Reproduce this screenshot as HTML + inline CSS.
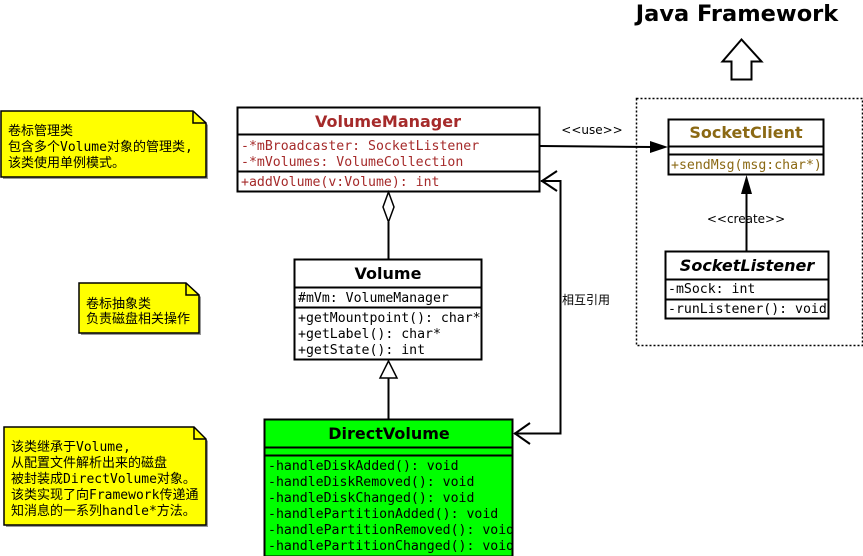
<!DOCTYPE html>
<html><head><meta charset="utf-8"><style>
html,body{margin:0;padding:0;background:#fff;}
svg{display:block;}
.m{font-family:"DejaVu Sans Mono","Liberation Mono","Noto Sans CJK SC",monospace;font-size:13.2px;}
.t{font-family:"DejaVu Sans","Liberation Sans",sans-serif;font-weight:bold;font-size:16px;}
.c{font-family:"DejaVu Sans Mono","Liberation Mono","Noto Sans CJK SC",monospace;font-size:13px;}
.s{font-family:"DejaVu Sans","Liberation Sans",sans-serif;font-size:12px;}
</style></head><body>
<svg width="863" height="556" viewBox="0 0 863 556" xmlns="http://www.w3.org/2000/svg">
<text x="737" y="21" text-anchor="middle" font-family="DejaVu Sans, Liberation Sans, sans-serif" font-weight="bold" font-size="22.5">Java Framework</text>
<polygon points="741.5,39.5 722.5,61.5 731.5,61.5 731.5,79.5 751.5,79.5 751.5,61.5 761.5,61.5" fill="#fff" stroke="#000" stroke-width="2"/>
<rect x="636.5" y="98.5" width="226" height="247" fill="none" stroke="#000" stroke-width="1.5" stroke-dasharray="2,2"/>

<g stroke="#000" stroke-width="1.5">
<polygon points="3,113 195,113 208,125 208,179 3,179" fill="#999" stroke="none"/>
<polygon points="1,111 193,111 206,123 206,177 1,177" fill="#ffff00"/>
<polyline points="193,111 193,123 206,123" fill="none"/>
<polygon points="81,285 188,285 201,297 201,335 81,335" fill="#999" stroke="none"/>
<polygon points="79,283 186,283 199,295 199,333 79,333" fill="#ffff00"/>
<polyline points="186,283 186,295 199,295" fill="none"/>
<polygon points="6,429 196,429 208,441 208,527 6,527" fill="#999" stroke="none"/>
<polygon points="4,427 194,427 206,439 206,525 4,525" fill="#ffff00"/>
<polyline points="194,427 194,439 206,439" fill="none"/>
</g>
<g class="c" fill="#000">
<text x="8" y="135">卷标管理类</text>
<text x="8" y="151">包含多个Volume对象的管理类,</text>
<text x="8" y="167">该类使用单例模式。</text>
<text x="86" y="308">卷标抽象类</text>
<text x="86" y="323">负责磁盘相关操作</text>
<text x="11" y="451">该类继承于Volume,</text>
<text x="11" y="467">从配置文件解析出来的磁盘</text>
<text x="11" y="483">被封装成DirectVolume对象。</text>
<text x="11" y="499">该类实现了向Framework传递通</text>
<text x="11" y="515">知消息的一系列handle*方法。</text>
</g>

<rect x="237.5" y="107.5" width="302" height="84" fill="#fff" stroke="#000" stroke-width="2"/>
<line x1="237" y1="134.5" x2="540" y2="134.5" stroke="#000" stroke-width="2"/>
<line x1="237" y1="171.5" x2="540" y2="171.5" stroke="#000" stroke-width="2"/>
<text x="388" y="127" text-anchor="middle" class="t" fill="#a52a2a">VolumeManager</text>
<g class="m" fill="#a52a2a">
<text x="241" y="150">-*mBroadcaster: SocketListener</text>
<text x="241" y="166">-*mVolumes: VolumeCollection</text>
<text x="241" y="186">+addVolume(v:Volume): int</text>
</g>

<rect x="294.5" y="259.5" width="187" height="100" fill="#fff" stroke="#000" stroke-width="2"/>
<line x1="294" y1="287.5" x2="482" y2="287.5" stroke="#000" stroke-width="2"/>
<line x1="294" y1="307.5" x2="482" y2="307.5" stroke="#000" stroke-width="2"/>
<text x="388" y="279" text-anchor="middle" class="t">Volume</text>
<g class="m">
<text x="298" y="302">#mVm: VolumeManager</text>
<text x="298" y="322">+getMountpoint(): char*</text>
<text x="298" y="338">+getLabel(): char*</text>
<text x="298" y="354">+getState(): int</text>
</g>

<rect x="264.5" y="419.5" width="248" height="137" fill="#00ff00" stroke="#000" stroke-width="2"/>
<line x1="264" y1="447.5" x2="513" y2="447.5" stroke="#000" stroke-width="2"/>
<line x1="264" y1="455.5" x2="513" y2="455.5" stroke="#000" stroke-width="2"/>
<text x="389" y="439" text-anchor="middle" class="t">DirectVolume</text>
<g class="m">
<text x="268" y="470">-handleDiskAdded(): void</text>
<text x="268" y="486">-handleDiskRemoved(): void</text>
<text x="268" y="502">-handleDiskChanged(): void</text>
<text x="268" y="518">-handlePartitionAdded(): void</text>
<text x="268" y="534">-handlePartitionRemoved(): void</text>
<text x="268" y="550">-handlePartitionChanged(): void</text>
</g>

<rect x="668.5" y="119.5" width="155" height="55" fill="#fff" stroke="#000" stroke-width="2"/>
<line x1="668" y1="146.5" x2="824" y2="146.5" stroke="#000" stroke-width="2"/>
<line x1="668" y1="154.5" x2="824" y2="154.5" stroke="#000" stroke-width="2"/>
<text x="746" y="138" text-anchor="middle" class="t" fill="#8b6914">SocketClient</text>
<text x="671" y="169" class="m" fill="#8b6914">+sendMsg(msg:char*)</text>

<rect x="665.5" y="251.5" width="163" height="67" fill="#fff" stroke="#000" stroke-width="2"/>
<line x1="665" y1="279.5" x2="829" y2="279.5" stroke="#000" stroke-width="2"/>
<line x1="665" y1="299.5" x2="829" y2="299.5" stroke="#000" stroke-width="2"/>
<text x="747" y="271" text-anchor="middle" class="t" font-style="italic">SocketListener</text>
<g class="m">
<text x="668" y="293">-mSock: int</text>
<text x="668" y="313">-runListener(): void</text>
</g>

<g stroke="#000" stroke-width="2" fill="none">
<line x1="540" y1="146" x2="652" y2="147"/>
<line x1="746.5" y1="251" x2="746.5" y2="192"/>
<line x1="388.5" y1="222" x2="388.5" y2="259"/>
<line x1="388.5" y1="378" x2="388.5" y2="419"/>
<polyline points="541,181 560.5,181 560.5,433.5 514,433.5"/>
<polyline points="557,171 542,181 557,191"/>
<polyline points="530,423 515,433.5 530,444"/>
</g>
<polygon points="668,147 650,141 650,153" fill="#000"/>
<polygon points="746.5,175 741,194 752,194" fill="#000"/>
<polygon points="388.5,192 383,207 388.5,222 394,207" fill="#fff" stroke="#000" stroke-width="1.5"/>
<polygon points="388.5,361 380,378 397,378" fill="#fff" stroke="#000" stroke-width="1.5"/>
<text x="592" y="134" text-anchor="middle" class="s">&lt;&lt;use&gt;&gt;</text>
<text x="746" y="223" text-anchor="middle" class="s">&lt;&lt;create&gt;&gt;</text>
<text x="562" y="304" class="s" font-family="Noto Sans CJK SC, sans-serif">相互引用</text>
</svg>
</body></html>
